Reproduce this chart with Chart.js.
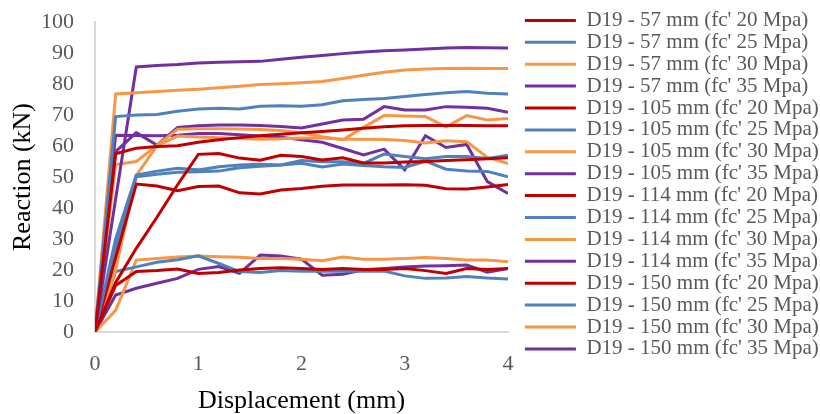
<!DOCTYPE html>
<html>
<head>
<meta charset="utf-8">
<script src="https://cdn.jsdelivr.net/npm/chart.js@4/dist/chart.umd.min.js"></script>
<style>
  html, body { margin: 0; padding: 0; background: #fff; }
  #wrap { width: 820px; height: 414px; }
</style>
</head>
<body>
<div id="wrap"><canvas id="c" width="820" height="414"></canvas></div>
<script>
// displacement steps (mm)
const displacement = [0, 0.2, 0.4, 0.6, 0.8, 1.0, 1.2, 1.4, 1.6, 1.8, 2.0,
                      2.2, 2.4, 2.6, 2.8, 3.0, 3.2, 3.4, 3.6, 3.8, 4.0];

const seriesNames = [
  "D19 - 57 mm (fc' 20 Mpa)", "D19 - 57 mm (fc' 25 Mpa)", "D19 - 57 mm (fc' 30 Mpa)", "D19 - 57 mm (fc' 35 Mpa)",
  "D19 - 105 mm (fc' 20 Mpa)", "D19 - 105 mm (fc' 25 Mpa)", "D19 - 105 mm (fc' 30 Mpa)", "D19 - 105 mm (fc' 35 Mpa)",
  "D19 - 114 mm (fc' 20 Mpa)", "D19 - 114 mm (fc' 25 Mpa)", "D19 - 114 mm (fc' 30 Mpa)", "D19 - 114 mm (fc' 35 Mpa)",
  "D19 - 150 mm (fc' 20 Mpa)", "D19 - 150 mm (fc' 25 Mpa)", "D19 - 150 mm (fc' 30 Mpa)", "D19 - 150 mm (fc' 35 Mpa)"
];

// reaction (kN)
const s57_20 = [0, 57.5, 59.3, 59.8, 60.1, 61.2, 62, 62.7, 63.3, 63.8, 64.3, 64.7, 65.2, 65.7, 66.2, 66.5, 66.6, 66.6, 66.6, 66.5, 66.5];
const s57_25 = [0, 69.5, 70, 70.2, 71.2, 71.9, 72.2, 71.9, 72.8, 73, 72.8, 73.3, 74.6, 75, 75.3, 76, 76.6, 77.2, 77.6, 77, 76.8];
const s57_30 = [0, 76.8, 77.2, 77.6, 78, 78.3, 78.8, 79.3, 79.8, 80.1, 80.4, 80.8, 81.8, 82.8, 83.8, 84.5, 84.8, 85, 85.1, 85, 85];
const s57_35 = [0, 43, 85.5, 86, 86.3, 86.8, 87, 87.2, 87.3, 88, 88.6, 89.2, 89.8, 90.3, 90.7, 91, 91.3, 91.6, 91.8, 91.7, 91.6];

const s105_20 = [0, 16, 27, 37, 47.5, 57.3, 57.6, 56.1, 55.4, 57, 56.6, 55.5, 56.2, 54.5, 54.5, 54.8, 55, 55.3, 55.6, 55.9, 56.2];
const s105_25 = [0, 30, 50.6, 51.9, 52.8, 52.3, 53.3, 53.9, 54.1, 53.9, 55.3, 54.9, 54.9, 54.4, 57.4, 56.6, 55.9, 56.6, 56.6, 56, 57];
const s105_30 = [0, 54, 55, 60.2, 65.4, 65.6, 65.6, 65.5, 65.3, 65, 64.3, 63, 62, 66, 69.8, 69.7, 69.5, 66.2, 69.8, 68.4, 68.9];
const s105_35 = [0, 58.2, 64.3, 60.3, 66, 66.5, 66.8, 66.8, 66.6, 66.3, 65.8, 67.1, 68.4, 68.6, 72.7, 71.6, 71.6, 72.7, 72.5, 72.2, 70.9];

const s114_20 = [0, 24, 47.7, 47.1, 45.6, 46.9, 47.1, 44.9, 44.5, 45.8, 46.3, 47, 47.4, 47.4, 47.4, 47.5, 47.3, 46.2, 46.1, 46.8, 47.6];
const s114_25 = [0, 27, 50.1, 50.9, 51.5, 51.7, 51.9, 53, 53.5, 53.9, 54.4, 53.2, 54.2, 53.7, 53.3, 53.1, 55.1, 52.5, 51.9, 51.8, 50.1];
const s114_30 = [0, 20, 50.5, 60, 63.2, 62.9, 62.7, 62.4, 62.2, 62.3, 62.6, 62.6, 62.2, 62.2, 62.1, 61.8, 61, 61.7, 61.4, 56.3, 54.3];
const s114_35 = [0, 63.5, 63.4, 63.3, 63.5, 64, 64, 63.6, 63.2, 62.8, 62, 61.2, 59.2, 57.1, 59, 52.3, 63.3, 59.5, 60.5, 48.5, 44.7];

const s150_20 = [0, 15, 19.5, 19.8, 20.3, 18.9, 19.2, 20, 20.5, 20.7, 20.5, 20.2, 20.5, 20.2, 20.2, 20.5, 19.8, 18.9, 20.5, 20.2, 20.5];
const s150_25 = [0, 19.5, 21, 22.5, 23.3, 24.6, 22.1, 19.5, 19.2, 19.8, 19.6, 19.6, 19.6, 19.6, 19.7, 18.1, 17.3, 17.4, 17.9, 17.4, 17.1];
const s150_30 = [0, 7, 23.2, 23.7, 24.2, 24.5, 24.3, 24.1, 23.7, 23.7, 23.5, 23, 24.2, 23.5, 23.5, 23.7, 24, 23.7, 23.2, 23.2, 22.7];
const s150_35 = [0, 11.9, 14.1, 15.7, 17.3, 20.2, 21.1, 18.9, 24.8, 24.5, 23.5, 18.3, 18.6, 20.1, 20.5, 21, 21.3, 21.4, 21.6, 19.3, 20.5];

const allSeries = [s57_20, s57_25, s57_30, s57_35, s105_20, s105_25, s105_30, s105_35,
                   s114_20, s114_25, s114_30, s114_35, s150_20, s150_25, s150_30, s150_35];

// red, blue, orange, purple repeat for each spacing
const palette = ['#C00000', '#4F81BD', '#F79646', '#7030A0'];

const serif = "'Liberation Serif', 'Times New Roman', serif";

const datasets = allSeries.map((vals, i) => ({
  label: seriesNames[i],
  data: vals.map((v, j) => ({ x: displacement[j], y: v })),
  borderColor: palette[i % 4],
  backgroundColor: palette[i % 4],
  borderWidth: 3,
  pointRadius: 0,
  tension: 0,
  fill: false
}));

const ctx = document.getElementById('c').getContext('2d');
new Chart(ctx, {
  type: 'line',
  data: { datasets },
  options: {
    responsive: false,
    animation: false,
    layout: { padding: { left: 4, right: 0, top: 9, bottom: 0 } },
    plugins: {
      legend: {
        position: 'right',
        align: 'start',
        maxWidth: 296,
        labels: {
          usePointStyle: true,
          pointStyle: 'line',
          pointStyleWidth: 51,
          boxHeight: 21,
          padding: 0.9,
          color: '#595959',
          font: { family: serif, size: 21 }
        }
      },
      tooltip: { enabled: false }
    },
    scales: {
      x: {
        type: 'linear',
        min: 0,
        max: 4,
        ticks: { stepSize: 1, padding: 19, color: '#595959', font: { family: serif, size: 22 } },
        grid: { display: false, drawTicks: false },
        border: { color: '#D9D9D9', width: 2 },
        title: { display: true, text: 'Displacement (mm)', color: '#000', font: { family: serif, size: 26 }, padding: { top: 6.5, bottom: -3 } },
        afterFit: (s) => { s.height = 82; s.paddingLeft = 0; s.paddingRight = 0; }
      },
      y: {
        min: 0,
        max: 100,
        ticks: { stepSize: 10, autoSkip: false, padding: 21, color: '#595959', font: { family: serif, size: 22 } },
        grid: { display: false, drawTicks: false },
        border: { color: '#D9D9D9', width: 2 },
        title: { display: true, text: 'Reaction (kN)', color: '#000', font: { family: serif, size: 26 }, padding: { top: 3.4, bottom: 2.4 } },
        afterFit: (s) => { s.width = 91; s.paddingTop = 22; s.paddingBottom = 0; }
      },
      // empty spacer between plot and legend
      gap: {
        position: 'right',
        min: 0,
        max: 1,
        ticks: { display: false },
        grid: { display: false, drawTicks: false },
        border: { display: false },
        afterFit: (s) => { s.width = 16; }
      }
    }
  }
});
</script>
</body>
</html>
